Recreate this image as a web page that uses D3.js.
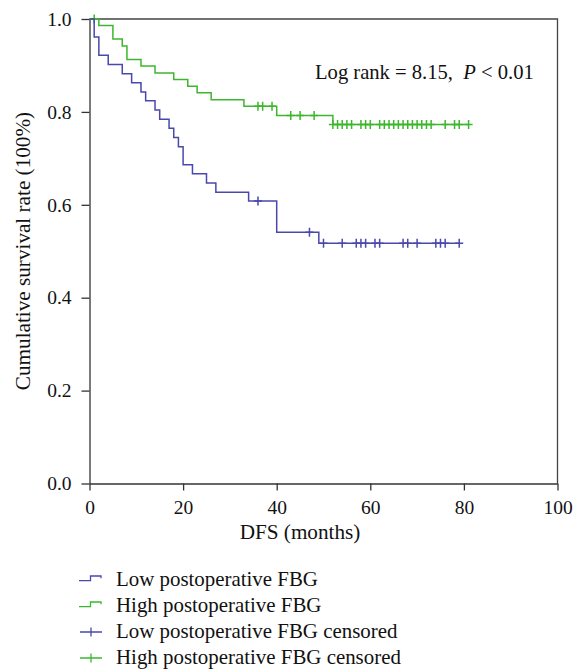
<!DOCTYPE html>
<html>
<head>
<meta charset="utf-8">
<script src="https://cdn.jsdelivr.net/npm/d3@7"></script>
<style>
  body { margin: 0; background: #fff; }
  #graph { width: 575px; height: 669px; }
  text { font-family: "Liberation Serif", "DejaVu Serif", serif; fill: #111; }
</style>
</head>
<body>
<div id="graph"></div>
<script>
// Low postoperative FBG: event times (months) and survival after each step
var lowTimes = [0, 1, 2, 4, 7, 9, 11, 12, 14, 15, 17, 18, 19, 20, 22, 25, 27, 34, 40, 49, 79];
var lowSurv  = [1, 0.961, 0.922, 0.902, 0.882, 0.863, 0.843, 0.824, 0.804, 0.784, 0.765,
                0.745, 0.725, 0.686, 0.667, 0.647, 0.627, 0.608, 0.541, 0.517, 0.517];
var lowCensor = [36, 47, 50, 54, 57, 58, 59, 61, 62, 67, 68, 70, 74, 75, 76, 79];

// High postoperative FBG
var highTimes = [0, 2, 5, 7, 8, 11, 14, 18, 21, 23, 26, 33, 40, 52, 81];
var highSurv  = [1, 0.986, 0.957, 0.942, 0.913, 0.899, 0.884, 0.870, 0.855, 0.841,
                 0.826, 0.812, 0.792, 0.773, 0.773];
var highCensor = [1, 36, 37, 39, 43, 45, 48, 52, 53, 54, 55, 56, 58, 59, 60, 62, 63, 64,
                  65, 66, 67, 68, 69, 70, 71, 72, 73, 76, 78, 79, 81];

var xTicks = [0, 20, 40, 60, 80, 100];
var yTicks = [0, 0.2, 0.4, 0.6, 0.8, 1.0];
var legendLabels = ["Low postoperative FBG", "High postoperative FBG",
                    "Low postoperative FBG censored", "High postoperative FBG censored"];

var blue = "#4848ad", green = "#3cb72d";

var svg = d3.select("#graph").append("svg")
    .attr("width", 575)
    .attr("height", 669);

// scales
var x = d3.scaleLinear().domain([0, 100]).range([89.5, 557.5]);
var y = d3.scaleLinear().domain([0, 1]).range([483.5, 19]);

// frame top & right
svg.append("path")
    .attr("d", "M" + x(0) + "," + y(1) + "H" + x(100) + "V" + y(0))
    .attr("fill", "none")
    .attr("stroke", "#444")
    .attr("stroke-width", 1.3);

// x axis
var xaxis = svg.append("g")
    .attr("transform", "translate(0," + y(0) + ")")
    .call(d3.axisBottom(x).tickValues(xTicks).tickSizeInner(7).tickSizeOuter(0).tickPadding(9.5));
// y axis
var yaxis = svg.append("g")
    .attr("transform", "translate(" + x(0) + ",0)")
    .call(d3.axisLeft(y).tickValues(yTicks).tickFormat(d3.format(".1f"))
      .tickSizeInner(8).tickSizeOuter(0).tickPadding(10));

[xaxis, yaxis].forEach(function(a) {
  a.select(".domain").attr("stroke", "#333").attr("stroke-width", 1.3);
  a.selectAll(".tick line").attr("stroke", "#333").attr("stroke-width", 1.3);
  a.selectAll(".tick text")
    .style("font-family", "'Liberation Serif', serif")
    .style("font-size", "19.5px")
    .attr("fill", "#111");
});

// step lines
var stepLine = d3.line()
    .x(function(d) { return x(d[0]); })
    .y(function(d) { return y(d[1]); })
    .curve(d3.curveStepAfter);

function survAt(times, surv, t) {
  var s = surv[0];
  for (var i = 0; i < times.length; i++) if (times[i] <= t) s = surv[i];
  return s;
}

function drawCurve(times, surv, censor, color) {
  svg.append("path")
      .datum(d3.zip(times, surv))
      .attr("d", stepLine)
      .attr("fill", "none")
      .attr("stroke", color)
      .attr("stroke-width", 1.5);

  svg.selectAll(null)
      .data(censor)
      .enter()
      .append("path")
      .attr("d", function(t) {
        var cx = x(t), cy = y(survAt(times, surv, t));
        return "M" + (cx - 4) + "," + cy + "H" + (cx + 4) +
               "M" + cx + "," + (cy - 4.5) + "V" + (cy + 4.5);
      })
      .attr("fill", "none")
      .attr("stroke", color)
      .attr("stroke-width", 1.5);
}

drawCurve(highTimes, highSurv, highCensor, green);
drawCurve(lowTimes, lowSurv, lowCensor, blue);

// log rank annotation
var lr = svg.append("text")
    .attr("x", 315)
    .attr("y", 79)
    .style("font-size", "20.6px")
    .style("white-space", "pre");
lr.append("tspan").text("Log rank = 8.15,  ");
lr.append("tspan").style("font-style", "italic").text("P");
lr.append("tspan").text(" < 0.01");

// axis labels
svg.append("text")
    .attr("x", 300)
    .attr("y", 538.5)
    .attr("text-anchor", "middle")
    .style("font-size", "21.2px")
    .text("DFS (months)");

svg.append("text")
    .attr("transform", "translate(30,251) rotate(-90)")
    .attr("text-anchor", "middle")
    .style("font-size", "21.2px")
    .text("Cumulative survival rate (100%)");

// legend
var legendColors = [blue, green, blue, green];
var leg = svg.selectAll(".legend")
    .data(legendLabels)
    .enter()
    .append("g")
    .attr("class", "legend")
    .attr("transform", function(d, i) { return "translate(0," + (586 + i * 26) + ")"; });

leg.append("path")
    .attr("d", function(d, i) {
      return i < 2 ? "M79,-5.3H90.5V-10H101V-7.7"
                   : "M80,-6H102M91,-10.5V-1.5";
    })
    .attr("fill", "none")
    .attr("stroke", function(d, i) { return legendColors[i]; })
    .attr("stroke-width", 1.3);

leg.append("text")
    .attr("x", 116)
    .attr("y", 0)
    .style("font-size", "20.9px")
    .text(function(d) { return d; });
</script>
</body>
</html>
